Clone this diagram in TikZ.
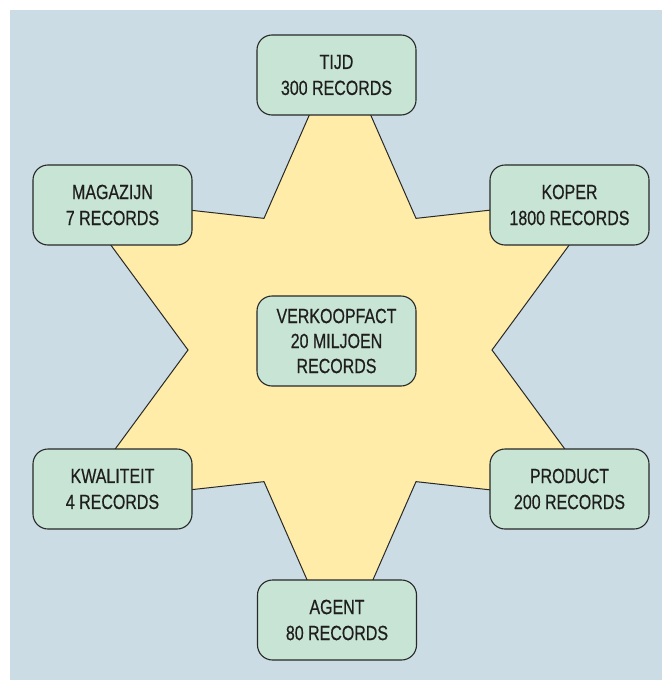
\documentclass[tikz,border=0pt]{standalone}
\usepackage{fontspec}
\setmainfont[FakeStretch=0.78,FakeBold=0.5]{Liberation Sans}
\definecolor{bgblue}{RGB}{204,220,228}
\definecolor{staryellow}{RGB}{255,236,168}
\definecolor{boxgreen}{RGB}{200,228,212}
\definecolor{linegray}{RGB}{40,40,40}
\definecolor{textgray}{RGB}{30,30,30}
\begin{document}
\begin{tikzpicture}[x=1pt,y=-1pt,
  dimbox/.style={draw=linegray, line width=1.1pt, fill=boxgreen, rounded corners=15pt,
    minimum width=159pt, minimum height=80pt, align=center,
    font=\fontsize{20.5}{26}\selectfont, text=textgray, inner sep=0pt},
  factbox/.style={dimbox, minimum height=90pt, font=\fontsize{20.5}{25}\selectfont},
  starshape/.style={draw=linegray, line width=1pt, fill=staryellow, line join=miter}
  ]
\useasboundingbox (0,0) rectangle (662,680);
\fill[bgblue] (10,10) rectangle (662,680);
\draw[starshape, shift={(340,350)}]
  (90:305) -- (60:152) -- (30:305) -- (0:152) -- (-30:305) -- (-60:152)
  -- (-90:305) -- (-120:152) -- (-150:305) -- (180:152) -- (150:305) -- (120:152) -- cycle;
\node[dimbox] (tijd) at (336.5,75) {TIJD\\300 RECORDS};
\node[dimbox] (magazijn) at (112.5,205) {MAGAZIJN\\7 RECORDS};
\node[dimbox] (koper) at (569.5,205) {KOPER\\1800 RECORDS};
\node[factbox] (fact) at (336.5,341) {VERKOOPFACT\\20 MILJOEN\\RECORDS};
\node[dimbox] (kwaliteit) at (112.5,489) {KWALITEIT\\4 RECORDS};
\node[dimbox] (product) at (569.5,489) {PRODUCT\\200 RECORDS};
\node[dimbox] (agent) at (337,620) {AGENT\\80 RECORDS};
\end{tikzpicture}
\end{document}
